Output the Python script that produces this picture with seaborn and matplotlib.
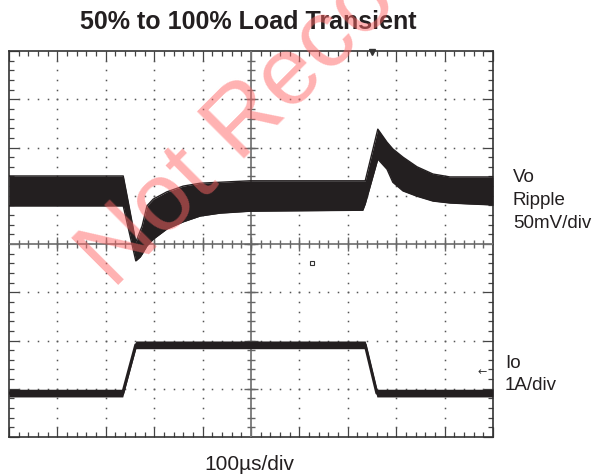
import numpy as np
import pandas as pd
import matplotlib
matplotlib.use('Agg')
import matplotlib.pyplot as plt
import seaborn as sns

# scope screen is 10 x 8 divisions, values below are in divisions
# Vo ripple band (50 mV/div): upper and lower envelope
t_vo = [0.00, 2.36, 2.46, 2.62, 2.71, 2.75, 2.85, 2.98, 3.26, 3.60, 3.95, 4.36,
        4.98, 7.31, 7.36, 7.62, 7.81, 7.93, 8.14, 8.43, 8.76, 9.11, 9.52, 10.00]
vo_top = [5.41, 5.41, 4.89, 4.04, 4.27, 4.37, 4.79, 4.93, 5.08, 5.20, 5.26, 5.28,
          5.31, 5.31, 5.31, 6.38, 6.11, 5.97, 5.80, 5.60, 5.45, 5.39, 5.39, 5.39]
vo_bot = [4.79, 4.79, 4.35, 3.65, 3.73, 3.79, 3.96, 4.10, 4.31, 4.46, 4.58, 4.64,
          4.68, 4.70, 4.83, 5.76, 5.55, 5.28, 5.10, 4.99, 4.89, 4.85, 4.83, 4.81]

# Io (1 A/div)
t_io = [0.00, 2.35, 2.62, 7.36, 7.60, 10.00]
io = [0.91, 0.91, 1.91, 1.91, 0.91, 0.91]
io_noise = 0.08  # half thickness of the noisy trace

title = '50% to 100% Load Transient'
vo_label = ['Vo', 'Ripple', '50mV/div']
io_label = ['Io', '1A/div']
x_label = '100\u00b5s/div'

sns.set_style('white')
plt.rcParams['font.family'] = ['Liberation Sans', 'DejaVu Sans']

W, H = 595, 477
fig = plt.figure(figsize=(W / 100, H / 100), dpi=100)
ax = fig.add_axes([9 / W, (H - 438) / H, 484 / W, 386 / H])

trace = '#231f20'
vo = pd.DataFrame({'t': t_vo, 'top': vo_top, 'bot': vo_bot})
cur = pd.DataFrame({'t': t_io, 'io': io})

# Vo band
ax.fill_between(vo['t'], vo['bot'], vo['top'], color=trace, lw=0, zorder=4)
sns.lineplot(data=vo, x='t', y='top', color=trace, lw=1, ax=ax, zorder=4)
sns.lineplot(data=vo, x='t', y='bot', color=trace, lw=1, ax=ax, zorder=4)

# Io trace
ax.fill_between(cur['t'], cur['io'] - io_noise, cur['io'] + io_noise,
                color=trace, lw=0, zorder=4)
sns.lineplot(data=cur, x='t', y='io', color=trace, lw=2.2, ax=ax, zorder=4)

ax.set_xlim(0, 10)
ax.set_ylim(0, 8)
ax.set_xlabel('')
ax.set_ylabel('')

# border ticks like a scope graticule
ax.set_xticks(np.arange(0, 11, 1))
ax.set_yticks(np.arange(0, 9, 1))
ax.set_xticks(np.arange(0, 10.01, 0.2), minor=True)
ax.set_yticks(np.arange(0, 8.01, 0.2), minor=True)
ax.tick_params(which='both', direction='in', top=True, right=True,
               bottom=True, left=True,
               labelbottom=False, labelleft=False, color='#444444', width=0.9)
ax.tick_params(which='major', length=7.5)
ax.tick_params(which='minor', length=3.6)
for s in ax.spines.values():
    s.set_color('#333333')
    s.set_linewidth(1.2)

# dotted grid
for k in range(1, 10):
    if k == 5:
        continue
    yy = np.arange(0.2, 8, 0.2)
    ax.plot(np.full_like(yy, k), yy, ls='none', marker='s', ms=1.1,
            color='#555555', mew=0, zorder=2)
for j in range(1, 8):
    if j == 4:
        continue
    xx = np.arange(0.2, 10, 0.2)
    ax.plot(xx, np.full_like(xx, j), ls='none', marker='s', ms=1.1,
            color='#555555', mew=0, zorder=2)

# centre cross with ticks
ax.axvline(5, color='#777777', lw=1.3, zorder=3)
ax.axhline(4, color='#777777', lw=1.3, zorder=3)
xm = np.arange(0.2, 10, 0.2)
ym = np.arange(0.2, 8, 0.2)
ax.plot(xm, np.full_like(xm, 4), ls='none', marker='|', ms=5.8, mew=1.0,
        color='#666666', zorder=3)
ax.plot(np.full_like(ym, 5), ym, ls='none', marker='_', ms=5.8, mew=1.0,
        color='#666666', zorder=3)
xM = np.arange(1, 10, 1)
yM = np.arange(1, 8, 1)
ax.plot(xM, np.full_like(xM, 4.0), ls='none', marker='|', ms=10, mew=1.0,
        color='#666666', zorder=3)
ax.plot(np.full_like(yM, 5.0), yM, ls='none', marker='_', ms=10, mew=1.0,
        color='#666666', zorder=3)

# small scope markers
ax.plot(7.5, 7.97, marker='v', ms=5, color='#333333', clip_on=False, zorder=5)
ax.plot(6.26, 3.61, marker='s', ms=3, mfc='white', mec='#333333', mew=0.8, zorder=5)
ax.text(9.77, 1.37, '\u2190', fontsize=8, ha='center', va='center', color='#333333',
        family=['DejaVu Sans'])

# texts
fig.text(248 / W, 1 - 29 / H, title, ha='center', va='baseline',
         fontsize=18, fontweight='bold', color='#231f20')
for i, s in enumerate(vo_label):
    fig.text(513 / W, 1 - (182 + 23 * i) / H, s, ha='left', va='baseline',
             fontsize=13.5, color='#231f20')
for i, s in enumerate(io_label):
    fig.text(505 / W, 1 - (368 + 22 * i) / H, s, ha='left', va='baseline',
             fontsize=13.5, color='#231f20')
fig.text(249 / W, 1 - 470 / H, x_label, ha='center', va='baseline',
         fontsize=15, color='#231f20')

# watermark
fig.text(113 / W, 1 - 290 / H, 'Not Recommended', rotation=45,
         rotation_mode='anchor', ha='left', va='baseline', fontsize=70,
         color='#ff6666', alpha=0.5, zorder=10)

fig.savefig('out.png', dpi=100)
